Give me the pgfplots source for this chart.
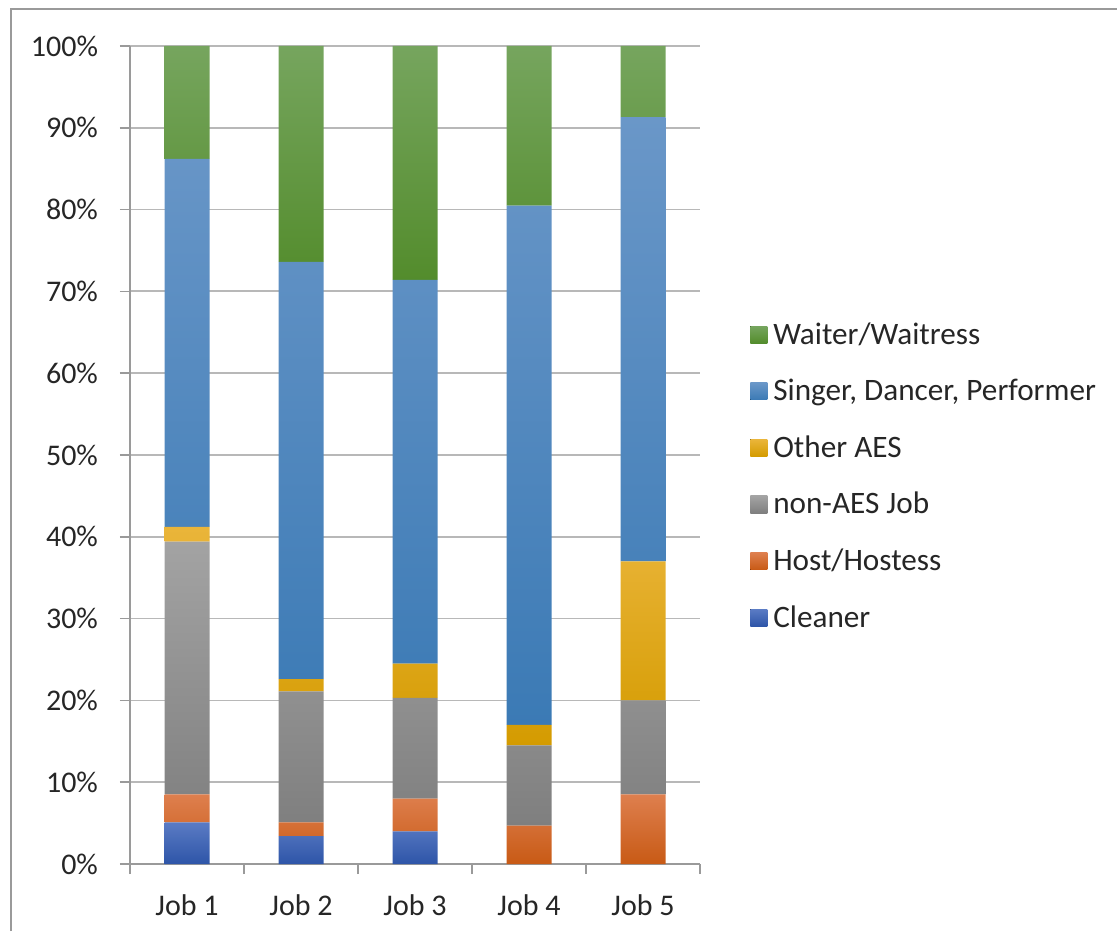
\documentclass[border=0pt]{standalone}
\usepackage{fontspec}
\setmainfont{Carlito}
\usepackage{pgfplots}
\pgfplotsset{compat=1.18}
\definecolor{clT}{HTML}{5A7BC4}\definecolor{clM}{HTML}{4068B8}\definecolor{clB}{HTML}{2E55A8}
\definecolor{hoT}{HTML}{DE7F4E}\definecolor{hoM}{HTML}{D86A25}\definecolor{hoB}{HTML}{C85A15}
\definecolor{naT}{HTML}{A3A3A3}\definecolor{naM}{HTML}{939393}\definecolor{naB}{HTML}{7F7F7F}
\definecolor{oaT}{HTML}{EAB53A}\definecolor{oaM}{HTML}{F0B000}\definecolor{oaB}{HTML}{D49B00}
\definecolor{siT}{HTML}{6A97C8}\definecolor{siM}{HTML}{4A87C2}\definecolor{siB}{HTML}{3B7AB5}
\definecolor{waT}{HTML}{76A55E}\definecolor{waM}{HTML}{629C3A}\definecolor{waB}{HTML}{538C2C}
\definecolor{gridc}{HTML}{B8B8B8}
\definecolor{axc}{HTML}{9A9A9A}
\begin{document}
\begin{tikzpicture}[x=1pt,y=1pt]
\useasboundingbox (0,0) rectangle (558.5,465.5);
\draw[color=axc, line width=0.8pt] (5.5,0) -- (5.5,461) -- (558.5,461);
\begin{axis}[
  at={(65pt,33.5pt)}, anchor=south west,
  scale only axis, width=285pt, height=409pt,
  ybar stacked, bar width=22.5pt,
  xmin=-0.5, xmax=4.5, ymin=0, ymax=100,
  xtick={0,1,2,3,4},
  xticklabels={Job 1,Job 2,Job 3,Job 4,Job 5},
  minor xtick={-0.5,0.5,1.5,2.5,3.5,4.5},
  ytick={0,10,...,100},
  yticklabels={0\%,10\%,20\%,30\%,40\%,50\%,60\%,70\%,80\%,90\%,100\%},
  axis lines=left,
  axis line style={-, color=axc, line width=0.8pt},
  ymajorgrids, grid style={color=gridc, line width=0.9pt},
  tick align=outside, major tick length=5pt, minor tick length=5pt,
  major x tick style={draw=none},
  minor x tick style={color=axc, line width=0.8pt},
  ytick style={color=axc, line width=0.8pt},
  ticklabel style={font=\fontsize{15pt}{18pt}\selectfont, text=black!85},
  yticklabel style={xshift=-7.5pt},
  xticklabel style={yshift=-7pt},
  legend style={at={(1.077,0.474)}, anchor=west, draw=none, fill=none,
    font=\fontsize{15.6pt}{18pt}\selectfont, text=black!85, row sep=12pt,
    /tikz/every odd column/.append style={column sep=1pt}},
  legend cell align=left,
  reverse legend,
  legend image code/.code={\fill[#1] (0pt,-4.25pt) rectangle (8.5pt,4.25pt);},
]
\addplot[draw=none, top color=clT, middle color=clM, bottom color=clB] coordinates {(0,5.1) (1,3.4) (2,4.0) (3,0) (4,0)};
\addlegendentry{Cleaner}
\addplot[draw=none, top color=hoT, middle color=hoM, bottom color=hoB] coordinates {(0,3.4) (1,1.7) (2,4.0) (3,4.7) (4,8.5)};
\addlegendentry{Host/Hostess}
\addplot[draw=none, top color=naT, middle color=naM, bottom color=naB] coordinates {(0,30.9) (1,16.0) (2,12.3) (3,9.8) (4,11.5)};
\addlegendentry{non-AES Job}
\addplot[draw=none, top color=oaT, middle color=oaM, bottom color=oaB] coordinates {(0,1.8) (1,1.5) (2,4.2) (3,2.5) (4,17.0)};
\addlegendentry{Other AES}
\addplot[draw=none, top color=siT, middle color=siM, bottom color=siB] coordinates {(0,45.0) (1,51.0) (2,46.9) (3,63.5) (4,54.3)};
\addlegendentry{Singer, Dancer, Performer}
\addplot[draw=none, top color=waT, middle color=waM, bottom color=waB] coordinates {(0,13.8) (1,26.4) (2,28.6) (3,19.5) (4,8.7)};
\addlegendentry{Waiter/Waitress}
\end{axis}
\end{tikzpicture}
\end{document}
